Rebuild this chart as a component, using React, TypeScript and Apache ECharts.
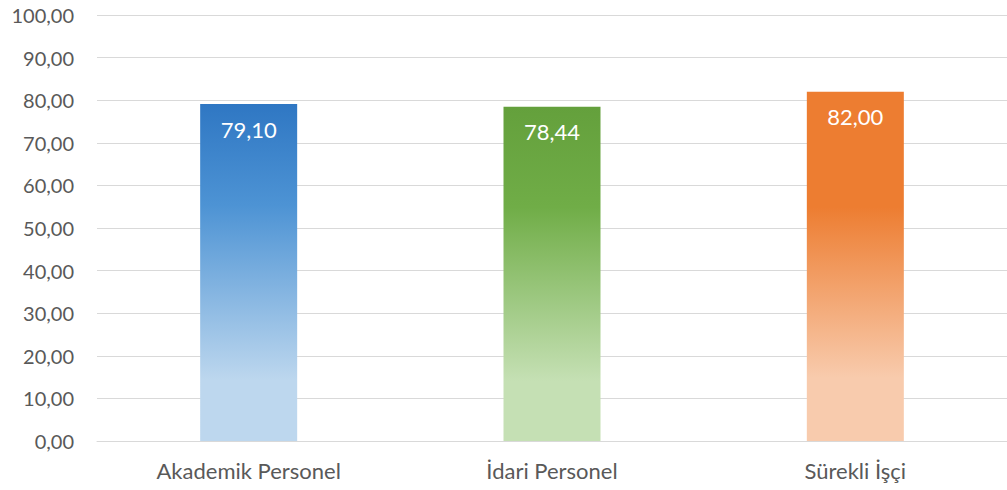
import React, { useEffect, useRef } from "react";
import * as echarts from "echarts";

const categories = ["Akademik Personel", "İdari Personel", "Sürekli İşçi"];
const values = [79.1, 78.44, 82.0];
const yTicks = [0, 10, 20, 30, 40, 50, 60, 70, 80, 90, 100];

const gradients = [
  [
    [0, "#2f77c3"],
    [0.3, "#4d93d4"],
    [0.82, "#bdd7ee"],
    [1, "#bdd7ee"],
  ],
  [
    [0, "#64a03c"],
    [0.3, "#70ad47"],
    [0.82, "#c5e0b4"],
    [1, "#c5e0b4"],
  ],
  [
    [0, "#ed7d31"],
    [0.33, "#ed7d31"],
    [0.82, "#f8cbad"],
    [1, "#f8cbad"],
  ],
];

const fmt = (v: number) => v.toFixed(2).replace(".", ",");

export default function App() {
  const ref = useRef<HTMLDivElement>(null);
  useEffect(() => {
    if (!ref.current) return;
    const chart = echarts.init(ref.current, undefined, { renderer: "svg" });
    const font = "Lato, 'Open Sans', sans-serif";
    chart.setOption({
      animation: false,
      grid: { left: 97, right: 0, top: 15, bottom: 49 },
      xAxis: {
        type: "category",
        data: categories,
        axisLine: { show: true, lineStyle: { color: "#d9d9d9", width: 1 } },
        axisTick: { show: false },
        axisLabel: { color: "#595959", fontSize: 22, fontFamily: font, margin: 18 },
      },
      yAxis: {
        type: "value",
        min: yTicks[0],
        max: yTicks[yTicks.length - 1],
        interval: 10,
        axisLine: { show: false },
        axisTick: { show: false },
        splitLine: { lineStyle: { color: "#d9d9d9", width: 1 } },
        axisLabel: {
          color: "#595959",
          fontSize: 20,
          fontFamily: font,
          margin: 23,
          formatter: (v: number) => fmt(v),
        },
      },
      series: [
        {
          type: "bar",
          barWidth: 97,
          data: values.map((v, i) => ({
            value: v,
            itemStyle: {
              color: new echarts.graphic.LinearGradient(
                0,
                0,
                0,
                1,
                gradients[i].map(([offset, color]) => ({ offset: offset as number, color: color as string }))
              ),
            },
          })),
          label: {
            show: true,
            position: "insideTop",
            distance: 14,
            color: "#ffffff",
            fontSize: 22,
            fontFamily: font,
            formatter: (p: any) => fmt(p.value),
          },
        },
      ],
    });
    return () => chart.dispose();
  }, []);
  return (
    <div
      ref={ref}
      style={{ position: "fixed", left: 0, top: 0, width: 1007, height: 490, background: "#fff" }}
    />
  );
}
